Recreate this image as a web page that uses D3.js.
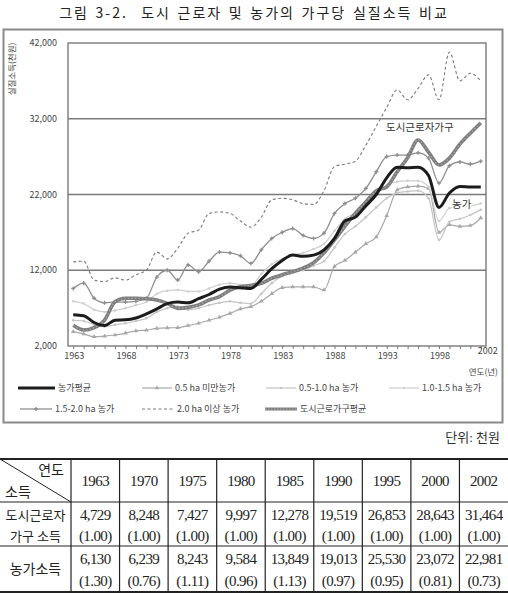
<!DOCTYPE html>
<html>
<head>
<meta charset="utf-8">
<script src="https://cdn.jsdelivr.net/npm/d3@7"></script>
<style>
    body { margin: 0; background: #fff; }
    svg { display: block; font-family: "Noto Sans CJK KR", "DejaVu Sans", sans-serif; }
    .serif { font-family: "Liberation Serif", "Noto Sans CJK KR", serif; }
</style>
</head>
<body>
<svg id="chart" width="508" height="594"></svg>
<script>
// 연도 (1963 ~ 2002)
const years = [1963, 1964, 1965, 1966, 1967, 1968, 1969, 1970, 1971, 1972,
    1973, 1974, 1975, 1976, 1977, 1978, 1979, 1980, 1981, 1982,
    1983, 1984, 1985, 1986, 1987, 1988, 1989, 1990, 1991, 1992,
    1993, 1994, 1995, 1996, 1997, 1998, 1999, 2000, 2001, 2002];

// 가구당 실질소득 (천원), 그림에서 읽은 값
const farmAvg = [6130, 6000, 5100, 4700, 5400, 5450, 5700, 6239, 6900, 7600,
    7800, 7700, 8243, 8800, 9500, 9800, 9700, 9584, 10800, 12200,
    13300, 14000, 13849, 14000, 14700, 16200, 18500, 19013, 20500, 22000,
    24200, 25600, 25530, 25600, 24500, 20300, 22200, 23072, 23000, 22981];
const below05 = [3900, 3600, 3230, 3300, 3450, 3700, 4000, 4100, 4330, 4400,
    4420, 4700, 5000, 5400, 5800, 6300, 6900, 7200, 7900, 8900,
    9700, 9800, 9800, 9800, 9400, 12500, 13300, 14400, 15500, 16400,
    19200, 22600, 23000, 23100, 22800, 17000, 18000, 17800, 17900, 18900];
const ha05to10 = [5400, 5300, 4800, 4550, 4800, 5000, 5300, 5650, 6500, 7000,
    7200, 6800, 7000, 7400, 7700, 7900, 7700, 7600, 8900, 10300,
    11200, 11700, 12000, 12600, 13200, 15000, 16800, 17800, 19000, 20300,
    21500, 22200, 22400, 22500, 21500, 16000, 18400, 18800, 19300, 20000];
const ha10to15 = [7900, 7600, 6800, 6500, 6700, 7000, 7400, 7800, 8900, 9300,
    9400, 9200, 9200, 9600, 10100, 10300, 10100, 10000, 11500, 12800,
    13500, 14000, 14300, 14800, 15500, 17200, 18800, 19600, 20800, 22000,
    23200, 23700, 23800, 23800, 23000, 18500, 20200, 20400, 20500, 20800];
const ha15to20 = [9600, 10300, 8300, 7700, 7800, 7800, 7900, 8300, 11100, 12000,
    10700, 12700, 11800, 13200, 14400, 14300, 13900, 12900, 14700, 16200,
    17000, 17500, 16600, 16200, 16900, 19500, 20800, 21500, 22800, 25000,
    27000, 27200, 27200, 27500, 26800, 23500, 25800, 26300, 26000, 26400];
const over20 = [13100, 13200, 10700, 10500, 11000, 10700, 11400, 12000, 14400, 13500,
    14900, 16900, 17300, 19500, 19700, 19500, 18500, 17700, 19000, 21300,
    21500, 21300, 20800, 20700, 22500, 25700, 26000, 26400, 28500, 31000,
    33500, 35800, 34500, 36000, 37800, 34500, 40800, 37000, 38000, 37000];
const urban = [4729, 4110, 4420, 5430, 7850, 8300, 8300, 8248, 8070, 7630,
    6970, 7100, 7427, 8070, 8510, 9390, 9830, 9997, 10280, 10940,
    11400, 11800, 12278, 13000, 14300, 16000, 17800, 19519, 21000, 22500,
    23000, 25000, 26853, 29200, 27600, 25900, 26800, 28643, 30100, 31464];

const yTicks = [2000, 12000, 22000, 32000, 42000];
const xLabelYears = [1963, 1968, 1973, 1978, 1983, 1988, 1993, 1998, 2002];

// 표
const tableYears = [1963, 1970, 1975, 1980, 1985, 1990, 1995, 2000, 2002];
const urbanIncome = ["4,729", "8,248", "7,427", "9,997", "12,278", "19,519", "26,853", "28,643", "31,464"];
const urbanRatio = ["(1.00)", "(1.00)", "(1.00)", "(1.00)", "(1.00)", "(1.00)", "(1.00)", "(1.00)", "(1.00)"];
const farmIncome = ["6,130", "6,239", "8,243", "9,584", "13,849", "19,013", "25,530", "23,072", "22,981"];
const farmRatio = ["(1.30)", "(0.76)", "(1.11)", "(0.96)", "(1.13)", "(0.97)", "(0.95)", "(0.81)", "(0.73)"];

const series = [
    {name: "0.5 ha 미만농가", values: below05, color: "#a8a8a8", width: 1.2, marker: "triangle"},
    {name: "0.5-1.0 ha 농가", values: ha05to10, color: "#c4c4c4", width: 1.2, marker: "dot"},
    {name: "1.0-1.5 ha 농가", values: ha10to15, color: "#cfcfcf", width: 1.2, marker: "dot"},
    {name: "2.0 ha 이상 농가", values: over20, color: "#7a7a7a", width: 1.1, dash: "3,2.5"},
    {name: "1.5-2.0 ha 농가", values: ha15to20, color: "#8e8e8e", width: 1.3, marker: "plus"},
    {name: "도시근로가구평균", values: urban, color: "#7c7c7c", width: 3.6, dotted: true},
    {name: "농가평균", values: farmAvg, color: "#1c1c1c", width: 3}
];

let svg = d3.select("#chart");

svg.append("text")
    .attr("x", 254).attr("y", 18)
    .attr("text-anchor", "middle")
    .style("font-size", "14px")
    .style("letter-spacing", "2px")
    .style("word-spacing", "1.5px")
    .style("white-space", "pre")
    .attr("fill", "#222")
    .text("그림 3-2.  도시 근로자 및 농가의 가구당 실질소득 비교");

// 바깥 틀
svg.append("rect")
    .attr("x", 3.5).attr("y", 29.5).attr("width", 499).attr("height", 393)
    .attr("fill", "none").attr("stroke", "#8a8a8a").attr("stroke-width", 2);

let x = d3.scalePoint().domain(years).range([68, 486]).padding(0.5);
let y = d3.scaleLinear().domain([2000, 42000]).range([346, 43]);

// 격자선
svg.append("g").selectAll("line")
    .data(yTicks.slice(1, 4))
    .join("line")
    .attr("x1", 68).attr("x2", 486)
    .attr("y1", d => y(d)).attr("y2", d => y(d))
    .attr("stroke", "#7a7a7a").attr("stroke-width", 1.4);

svg.append("rect")
    .attr("x", 68).attr("y", y(42000)).attr("width", 418).attr("height", y(2000) - y(42000))
    .attr("fill", "none").attr("stroke", "#7a7a7a").attr("stroke-width", 1.4);

svg.append("g").selectAll("text")
    .data(yTicks)
    .join("text")
    .attr("x", 57).attr("y", d => y(d))
    .attr("dy", "0.35em")
    .attr("text-anchor", "end")
    .style("font-size", "9px")
    .attr("fill", "#444")
    .text(d => d3.format(",")(d));

let xAxis = svg.append("g")
    .attr("transform", `translate(0,${y(2000)})`)
    .call(d3.axisBottom(x).tickSize(3).tickFormat(""));
xAxis.select(".domain").remove();
xAxis.selectAll("line").attr("stroke", "#777");

svg.append("g").selectAll("text")
    .data(xLabelYears)
    .join("text")
    .attr("x", d => d === 2002 ? x(d) + 7 : x(d) + 1)
    .attr("y", d => d === 2002 ? 354 : 359)
    .attr("text-anchor", "middle")
    .style("font-size", "9px")
    .attr("fill", "#444")
    .text(d => d);

svg.append("text")
    .attr("x", 498).attr("y", 375)
    .attr("text-anchor", "end")
    .style("font-size", "8.5px")
    .attr("fill", "#444")
    .text("연도(년)");

svg.append("text")
    .attr("transform", "translate(15,69) rotate(-90)")
    .attr("text-anchor", "middle")
    .style("font-size", "8.5px")
    .attr("fill", "#444")
    .text("실질소득(천원)");

let line = d3.line()
    .x((d, i) => x(years[i]))
    .y(d => y(d))
    .curve(d3.curveMonotoneX);

let markerPath = (type, size) => {
    if (type === "triangle") return d3.symbol(d3.symbolTriangle, size)();
    if (type === "plus") return d3.symbol(d3.symbolCross, size)();
    return d3.symbol(d3.symbolCircle, size)();
};

series.forEach(s => {
    let g = svg.append("g");
    g.append("path")
        .attr("d", line(s.values))
        .attr("fill", "none")
        .attr("stroke", s.color)
        .attr("stroke-width", s.width)
        .attr("stroke-linejoin", "round")
        .attr("stroke-dasharray", s.dash || null);
    if (s.dotted) {
        g.append("path")
            .attr("d", line(s.values))
            .attr("fill", "none")
            .attr("stroke", "#a9a9a9")
            .attr("stroke-width", 1.2)
            .attr("stroke-dasharray", "1.5,2");
    }
    if (s.marker) {
        g.selectAll("path.m")
            .data(s.values)
            .join("path")
            .attr("class", "m")
            .attr("transform", (d, i) => `translate(${x(years[i])},${y(d)})`)
            .attr("d", markerPath(s.marker, s.marker === "dot" ? 5 : 9))
            .attr("fill", s.color);
    }
});

// 선 이름
svg.append("text")
    .attr("x", 386).attr("y", 131)
    .style("font-size", "10.5px")
    .attr("fill", "#333")
    .attr("stroke", "#fff").attr("stroke-width", 3).style("paint-order", "stroke")
    .text("도시근로자가구");
svg.append("text")
    .attr("x", 452).attr("y", 208)
    .style("font-size", "10.5px")
    .attr("fill", "#333")
    .attr("stroke", "#fff").attr("stroke-width", 3).style("paint-order", "stroke")
    .text("농가");

// 범례
let legendItems = [
    {s: series[6], x: 18, y: 388, len: 37},
    {s: series[0], x: 142, y: 388, len: 30},
    {s: series[1], x: 266, y: 388, len: 30},
    {s: series[2], x: 389, y: 388, len: 30},
    {s: series[4], x: 20, y: 409, len: 32},
    {s: series[3], x: 142, y: 409, len: 32},
    {s: series[5], x: 265, y: 409, len: 32}
];

let legend = svg.append("g").selectAll("g")
    .data(legendItems)
    .join("g")
    .attr("transform", d => `translate(${d.x},${d.y})`);

legend.append("line")
    .attr("x1", 0).attr("x2", d => d.len)
    .attr("stroke", d => d.s.color)
    .attr("stroke-width", d => Math.min(d.s.width, 3))
    .attr("stroke-dasharray", d => d.s.dash || null);
legend.filter(d => d.s.dotted)
    .append("line")
    .attr("x1", 0).attr("x2", d => d.len)
    .attr("stroke", "#b0b0b0").attr("stroke-width", 1)
    .attr("stroke-dasharray", "1.5,1.5");
legend.filter(d => d.s.marker)
    .append("path")
    .attr("transform", d => `translate(${d.len / 2},0)`)
    .attr("d", d => markerPath(d.s.marker, d.s.marker === "dot" ? 5 : 9))
    .attr("fill", d => d.s.color);
legend.append("text")
    .attr("x", d => d.len + 3)
    .attr("dy", "0.35em")
    .style("font-size", "9px")
    .attr("fill", "#444")
    .text(d => d.s.name);

svg.append("text")
    .attr("x", 500).attr("y", 442)
    .attr("text-anchor", "end")
    .attr("class", "serif")
    .style("font-size", "13px")
    .attr("fill", "#333")
    .text("단위: 천원");

// 표 그리기
let colW = (508 - 71) / tableYears.length;
let colX = d3.range(tableYears.length).map(i => 71 + colW * i);
let rowY = [459, 502, 546, 592];

let table = svg.append("g").attr("class", "serif").attr("fill", "#222");

table.selectAll("line.h")
    .data(rowY)
    .join("line")
    .attr("x1", 0).attr("x2", 508)
    .attr("y1", d => d).attr("y2", d => d)
    .attr("stroke", "#222")
    .attr("stroke-width", (d, i) => (i === 0 || i === 3) ? 2 : 1.2);

table.selectAll("line.v")
    .data(colX)
    .join("line")
    .attr("x1", d => d).attr("x2", d => d)
    .attr("y1", rowY[0]).attr("y2", rowY[3])
    .attr("stroke", "#222").attr("stroke-width", 1.2);

table.append("line")
    .attr("x1", 0).attr("y1", rowY[0]).attr("x2", 71).attr("y2", rowY[1])
    .attr("stroke", "#222").attr("stroke-width", 1);

table.append("text").attr("x", 64).attr("y", 475).attr("text-anchor", "end")
    .style("font-size", "14px").text("연도");
table.append("text").attr("x", 5).attr("y", 497)
    .style("font-size", "14px").text("소득");

let numText = (arr, yy) => table.append("g").selectAll("text")
    .data(arr)
    .join("text")
    .attr("x", (d, i) => colX[i] + colW / 2)
    .attr("y", yy)
    .attr("text-anchor", "middle")
    .style("font-size", "15px")
    .style("letter-spacing", "-0.6px")
    .text(d => d);

numText(tableYears, 486);
numText(urbanIncome, 520);
numText(urbanRatio, 541);
numText(farmIncome, 564);
numText(farmRatio, 586);

table.append("text").attr("x", 35.5).attr("y", 520).attr("text-anchor", "middle")
    .style("font-size", "13px").text("도시근로자");
table.append("text").attr("x", 35.5).attr("y", 541).attr("text-anchor", "middle")
    .style("font-size", "13px").style("white-space", "pre").text("가구 소득");
table.append("text").attr("x", 35.5).attr("y", 574).attr("text-anchor", "middle")
    .style("font-size", "14px").text("농가소득");
</script>
</body>
</html>
